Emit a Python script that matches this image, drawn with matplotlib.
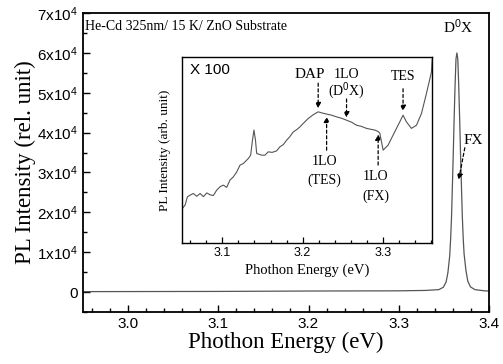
import matplotlib
matplotlib.use("Agg")
import matplotlib.pyplot as plt
from matplotlib.ticker import MultipleLocator, FixedLocator

plt.rcParams['mathtext.fontset'] = 'custom'
plt.rcParams['mathtext.rm'] = 'Liberation Sans'
plt.rcParams['mathtext.it'] = 'Liberation Sans'

SANS = 'Liberation Sans'
SERIF = 'Liberation Serif'
LINE = '#555555'

# main spectrum (15 K, full scale)
main_energy = [2.95, 3.10, 3.20, 3.30, 3.33, 3.3445, 3.3495, 3.3525, 3.3545,
               3.3565, 3.3575, 3.3585, 3.3595, 3.3605, 3.3615, 3.3625, 3.3635,
               3.3645, 3.3655, 3.3665, 3.3675, 3.3685, 3.3695, 3.3705, 3.3715,
               3.3725, 3.3745, 3.3765, 3.3795, 3.3845, 3.395, 3.40]
main_intensity = [100, 150, 250, 300, 400, 600, 1200, 2500, 4800,
                  9000, 13000, 18500, 26500, 35000, 44000, 52000, 58500,
                  60000, 58500, 52000, 44000, 35000, 27000, 19000, 13500,
                  9500, 5500, 2800, 1300, 600, 300, 250]

# inset spectrum (x100, arbitrary units)
inset_energy = [3.0504, 3.0537, 3.0566, 3.0599, 3.0640, 3.0683, 3.0724, 3.0765,
                3.0807, 3.0848, 3.0889, 3.0931, 3.0972, 3.1013, 3.1055, 3.1096,
                3.1137, 3.1180, 3.1220, 3.1261, 3.1324, 3.1353, 3.1376, 3.1394,
                3.1413, 3.1428, 3.1490, 3.1531, 3.1572, 3.1620, 3.1676, 3.1717,
                3.1760, 3.1801, 3.1840, 3.1883, 3.1925, 3.1966, 3.2010, 3.2069,
                3.2130, 3.2193, 3.2240, 3.2298, 3.2360, 3.2422, 3.2480, 3.2546,
                3.2610, 3.2670, 3.2730, 3.2794, 3.2850, 3.2898, 3.2939, 3.2960,
                3.3001, 3.3063, 3.3125, 3.3208, 3.3249, 3.3291, 3.3353, 3.3416,
                3.3478, 3.3540, 3.3602, 3.3612]
inset_intensity = [0.187, 0.204, 0.249, 0.258, 0.267, 0.252, 0.267, 0.250,
                   0.270, 0.260, 0.256, 0.285, 0.303, 0.312, 0.300, 0.339,
                   0.356, 0.383, 0.419, 0.428, 0.455, 0.473, 0.554, 0.608,
                   0.554, 0.482, 0.473, 0.473, 0.491, 0.488, 0.496, 0.518,
                   0.530, 0.554, 0.572, 0.598, 0.610, 0.625, 0.645, 0.670,
                   0.690, 0.706, 0.700, 0.694, 0.688, 0.679, 0.672, 0.661,
                   0.650, 0.634, 0.628, 0.617, 0.612, 0.608, 0.600, 0.591,
                   0.500, 0.527, 0.581, 0.652, 0.688, 0.652, 0.617, 0.634,
                   0.697, 0.805, 0.920, 0.990]

main_yticks = [0, 10000, 20000, 30000, 40000, 50000, 60000, 70000]
main_ylabels = ['0'] + [r'$\mathregular{%dx10^{4}}$' % i for i in range(1, 8)]
main_xticks = [3.0, 3.1, 3.2, 3.3, 3.4]
inset_xticks = [3.1, 3.2, 3.3]

fig = plt.figure(figsize=(5.03, 3.64), dpi=100)
ax = fig.add_axes([0.165, 0.143, 0.807, 0.821])
ax.plot(main_energy, main_intensity, color=LINE, linewidth=0.9)
ax.set_xlim(2.95, 3.4)
ax.set_ylim(-5000, 70000)
ax.xaxis.set_major_locator(FixedLocator(main_xticks))
ax.xaxis.set_minor_locator(MultipleLocator(0.02))
ax.set_yticks(main_yticks)
ax.set_yticklabels(main_ylabels)
ax.yaxis.set_minor_locator(MultipleLocator(5000))
ax.set_xticklabels(['%.1f' % v for v in main_xticks])
ax.tick_params(which='both', direction='in', top=False, right=False, width=1.0)
ax.tick_params(which='major', length=5, labelsize=11)
ax.tick_params(which='minor', length=3)
for lab in ax.get_xticklabels() + ax.get_yticklabels():
    lab.set_fontfamily(SANS)
for s in ax.spines.values():
    s.set_linewidth(1.3)
ax.set_xlabel('Phothon Energy (eV)', fontfamily=SERIF, fontsize=16.5, labelpad=1)
ax.set_ylabel('PL Intensity (rel. unit)', fontfamily=SERIF, fontsize=16.5, labelpad=1)
ax.text(0.005, 0.955, 'He-Cd 325nm/ 15 K/ ZnO Substrate', transform=ax.transAxes,
        fontfamily=SERIF, fontsize=10, va='center', ha='left')
ax.text(3.366, 66500, r'D$^{\rm 0}$X', fontfamily=SERIF, fontsize=11, ha='center', va='center')
ax.text(3.383, 38000, 'FX', fontfamily=SERIF, fontsize=11, ha='center', va='center')
ax.annotate('', xy=(3.3665, 28200), xytext=(3.3733, 36200),
            arrowprops=dict(arrowstyle='-|>', linestyle=(0, (2.5, 2)), color='black',
                            lw=0.9, mutation_scale=8, shrinkA=0, shrinkB=0))

ins = fig.add_axes([0.362, 0.332, 0.497, 0.511])
ins.plot(inset_energy, inset_intensity, color=LINE, linewidth=0.8)
ins.set_xlim(3.05, 3.361)
ins.set_ylim(0, 1)
ins.set_yticks([])
ins.xaxis.set_major_locator(FixedLocator(inset_xticks))
ins.xaxis.set_minor_locator(MultipleLocator(0.02))
ins.set_xticklabels(['%.1f' % v for v in inset_xticks])
ins.tick_params(which='both', direction='in', top=False, right=False, width=0.9)
ins.tick_params(which='major', length=4, labelsize=9, pad=3)
ins.tick_params(which='minor', length=2.5)
for lab in ins.get_xticklabels():
    lab.set_fontfamily(SANS)
for s in ins.spines.values():
    s.set_linewidth(1.0)
ins.set_xlabel('Phothon Energy (eV)', fontfamily=SERIF, fontsize=10.5, labelpad=3)
ins.set_ylabel('PL Intensity (arb. unit)', fontfamily=SERIF, fontsize=9.5, labelpad=8)
ins.text(0.03, 0.93, 'X 100', transform=ins.transAxes, fontfamily=SANS, fontsize=11,
         ha='left', va='center')

arrow_kw = dict(arrowstyle='-|>', linestyle=(0, (2.5, 2)), color='black', lw=0.9,
                mutation_scale=8, shrinkA=0, shrinkB=0)
# DAP
ins.text(3.209, 0.905, 'DAP', fontfamily=SERIF, fontsize=11, ha='center', va='center')
ins.annotate('', xy=(3.2193, 0.725), xytext=(3.2193, 0.86), arrowprops=arrow_kw)
# 1LO (D0X)
ins.text(3.2545, 0.905, '1LO', fontfamily=SERIF, fontsize=10, ha='center', va='center')
ins.text(3.2545, 0.82, r'(D$^{\rm 0}$X)', fontfamily=SERIF, fontsize=10, ha='center', va='center')
ins.annotate('', xy=(3.2546, 0.675), xytext=(3.2546, 0.775), arrowprops=arrow_kw)
# 1LO (TES)
ins.text(3.2275, 0.44, '1LO', fontfamily=SERIF, fontsize=10, ha='center', va='center')
ins.text(3.2275, 0.34, '(TES)', fontfamily=SERIF, fontsize=10, ha='center', va='center')
ins.annotate('', xy=(3.2298, 0.68), xytext=(3.2298, 0.5), arrowprops=arrow_kw)
# 1LO (FX)
ins.text(3.291, 0.36, '1LO', fontfamily=SERIF, fontsize=10, ha='center', va='center')
ins.text(3.291, 0.25, '(FX)', fontfamily=SERIF, fontsize=10, ha='center', va='center')
ins.annotate('', xy=(3.2939, 0.585), xytext=(3.2939, 0.42), arrowprops=arrow_kw)
# TES
ins.text(3.3249, 0.895, 'TES', fontfamily=SERIF, fontsize=10, ha='center', va='center')
ins.annotate('', xy=(3.3249, 0.71), xytext=(3.3249, 0.83), arrowprops=arrow_kw)

fig.savefig('out.png', dpi=100)
